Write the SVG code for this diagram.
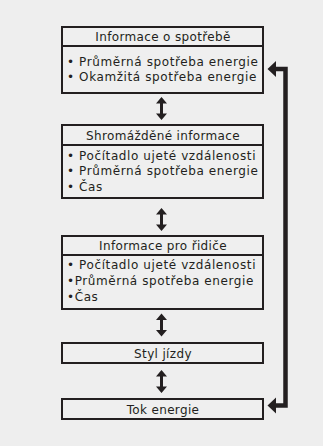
<svg xmlns="http://www.w3.org/2000/svg" width="323" height="446" viewBox="0 0 323 446">
<style>
.bg{fill:#eeeeee}
.box{fill:#efefef;stroke:#231f20;stroke-width:2}
.div{stroke:#231f20;stroke-width:2}
text{font-family:"DejaVu Sans","Liberation Sans",sans-serif;font-size:12px;letter-spacing:0.6px;fill:#231f20}
.t{text-anchor:middle;letter-spacing:0.35px}
.fb{fill:none;stroke:#231f20;stroke-width:4.5}
.ah{fill:#231f20}
</style>
<defs>
<path id="dbl" d="M0,-11.5 L5.5,-5 L1.5,-5 L1.5,5 L5.5,5 L0,11.5 L-5.5,5 L-1.5,5 L-1.5,-5 L-5.5,-5 Z" fill="#231f20"/>
</defs>
<rect class="bg" x="0" y="0" width="323" height="446"/>
<g id="n1">
<rect class="box" x="62" y="27" width="201" height="66"/>
<line class="div" x1="62" y1="46" x2="263" y2="46"/>
<text class="t" x="163" y="40.5">Informace o spotřebě</text>
<text x="67" y="65.5">• Průměrná spotřeba energie</text>
<text x="67" y="81">• Okamžitá spotřeba energie</text>
</g>
<g id="n2">
<rect class="box" x="62" y="125" width="201" height="73"/>
<line class="div" x1="62" y1="145" x2="263" y2="145"/>
<text class="t" x="163" y="140">Shromážděné informace</text>
<text x="67" y="159.5">• Počítadlo ujeté vzdálenosti</text>
<text x="67" y="175">• Průměrná spotřeba energie</text>
<text x="67" y="190.5">• Čas</text>
</g>
<g id="n3">
<rect class="box" x="62" y="236" width="201" height="73"/>
<line class="div" x1="62" y1="255" x2="263" y2="255"/>
<text class="t" x="163" y="250">Informace pro řidiče</text>
<text x="67" y="269">• Počítadlo ujeté vzdálenosti</text>
<text x="67" y="285">•Průměrná spotřeba energie</text>
<text x="67" y="301">•Čas</text>
</g>
<g id="n4">
<rect class="box" x="62" y="343" width="201" height="20"/>
<text class="t" x="163" y="357.5">Styl jízdy</text>
</g>
<g id="n5">
<rect class="box" x="62" y="399" width="201" height="20"/>
<text class="t" x="163" y="413.5">Tok energie</text>
</g>
<g id="connectors">
<use href="#dbl" x="161.5" y="108.5"/>
<use href="#dbl" x="161.5" y="219.5"/>
<use href="#dbl" x="161.5" y="325"/>
<use href="#dbl" x="161.5" y="381.5"/>
<path class="fb" d="M276,69 L285.5,69 L285.5,405.5 L276,405.5"/>
<path class="ah" d="M267.5,69 L276,61 L276,77 Z"/>
<path class="ah" d="M267.5,405.5 L276,397.5 L276,413.5 Z"/>
</g>
</svg>
